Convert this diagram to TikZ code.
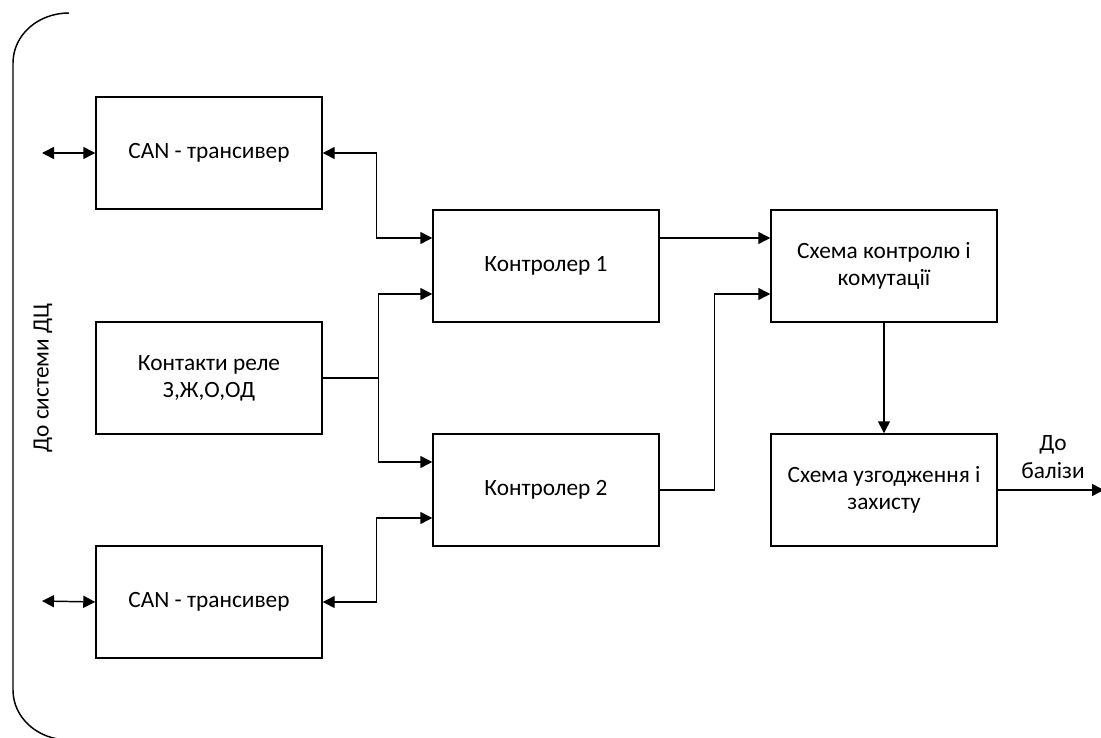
\documentclass[tikz,border=0pt]{standalone}
\usepackage{fontspec}
\setmainfont{Carlito}
\usetikzlibrary{arrows.meta,calc}
\begin{document}
\begin{tikzpicture}[x=0.75pt,y=-0.75pt,
  blk/.style={draw,line width=1.1pt,minimum width=169.5pt,minimum height=84pt,inner sep=0pt,align=center,font=\fontsize{17.5}{20.5}\selectfont},
  conn/.style={line width=1.1pt},
  arr/.style={conn,-{Triangle[length=9pt,width=9pt]}},
  darr/.style={conn,{Triangle[length=9pt,width=9pt]}-{Triangle[length=9pt,width=9pt]}},
  lbl/.style={font=\fontsize{17.5}{20.5}\selectfont,align=center,inner sep=0pt}]
\useasboundingbox (0,0) rectangle (1101,738);
\clip (0,0) rectangle (1101,738);
% bracket
\draw[conn] (69,13) .. controls (38,13) and (13,35) .. (13,63) -- (13,690) .. controls (13,718) and (38,740) .. (69,740);
\node[lbl,rotate=90] (dc) at (43,378) {До системи ДЦ};
% blocks
\node[blk] (can1) at (209,153) {CAN - трансивер};
\node[blk] (rel) at (209,378) {Контакти реле\\З,Ж,О,ОД};
\node[blk] (can2) at (209,602) {CAN - трансивер};
\node[blk] (k1) at (546,266) {Контролер 1};
\node[blk] (k2) at (546,490) {Контролер 2};
\node[blk] (sk) at (884,266) {Схема контролю і\\комутації};
\node[blk] (su) at (884,490) {Схема узгодження і\\захисту};
% free ends
\coordinate (l1) at (42,153);
\coordinate (l2) at (42,601);
\coordinate (out) at (1104,490);
\coordinate (j) at ($(rel.east)+(56,0)$);
% connectors
\draw[darr] (l1) -- (can1.west);
\draw[darr] (l2) -- (can2.west);
\draw[darr] (can1.east) -| ($(k1.west)+(-56,-28)$) -- ($(k1.west)+(0,-28)$);
\draw[darr] (can2.east) -| ($(k2.west)+(-56,28)$) -- ($(k2.west)+(0,28)$);
\draw[conn] (rel.east) -- (j);
\draw[arr] (j) |- ($(k1.west)+(0,28)$);
\draw[arr] (j) |- ($(k2.west)+(0,-28)$);
\draw[arr] ($(k1.east)+(0,-28)$) -- ($(sk.west)+(0,-28)$);
\draw[arr] (k2.east) -| ($(sk.west)+(-56,28)$) -- ($(sk.west)+(0,28)$);
\draw[arr] (sk.south) -- (su.north);
\draw[arr] (su.east) -- (out);
\node[lbl] (lb) at (1053,457) {До\\балізи};
\end{tikzpicture}
\end{document}
